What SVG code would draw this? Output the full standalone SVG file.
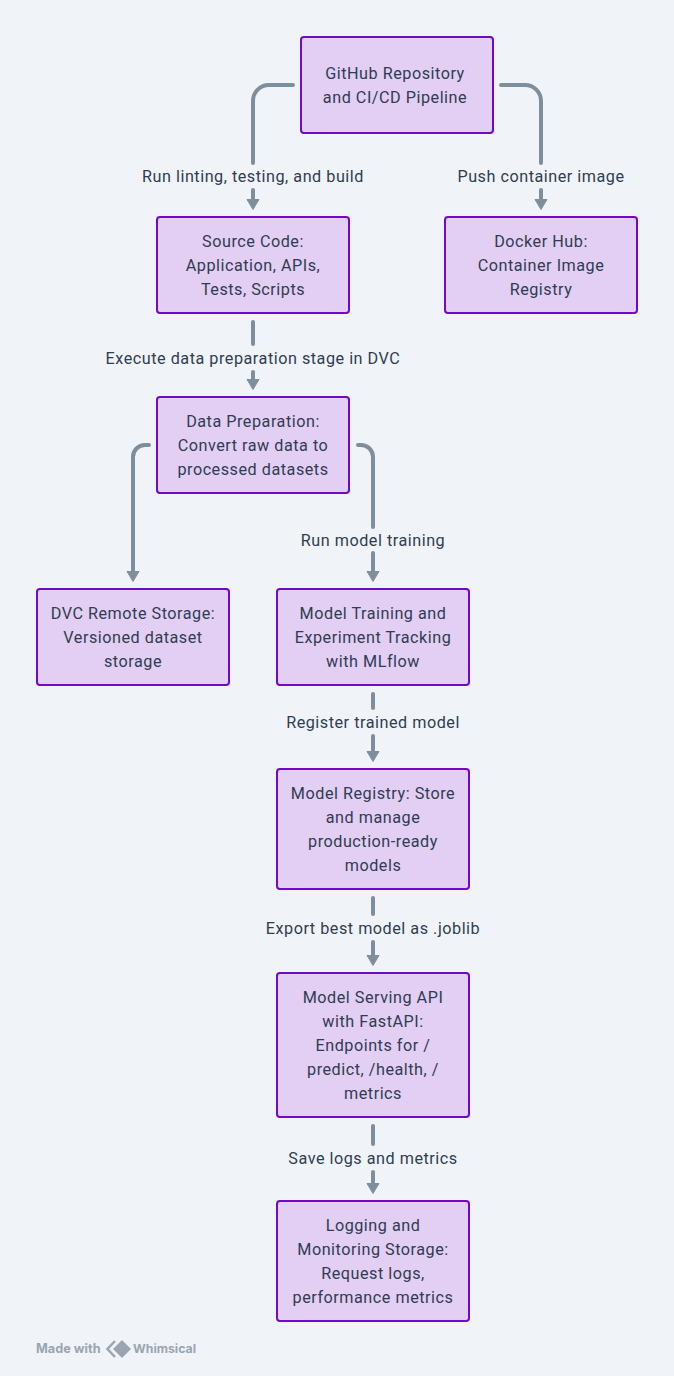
<svg xmlns="http://www.w3.org/2000/svg" width="674" height="1376" viewBox="0 0 674 1376">
<style>
.n{fill:#e3cef4;stroke:#7109c8;stroke-width:2}
.t{font-family:Roboto,"Noto Sans",sans-serif;font-size:16.2px;letter-spacing:.52px;fill:#2f3d52;text-anchor:middle}
.c{fill:none;stroke:#7f8e9d;stroke-width:4;stroke-linecap:round}
.f{font-family:Inter,sans-serif;font-size:12.7px;font-weight:700;fill:#9aa5b1}
</style>
<defs>
<marker id="a" markerUnits="userSpaceOnUse" markerWidth="16" markerHeight="14" refX="8" refY="3" orient="0" viewBox="0 0 16 14"><path d="M2 0.5H14L8 10.5Z" fill="#7f8e9d" stroke="#7f8e9d" stroke-width="1" stroke-linejoin="round"/></marker>
</defs>
<rect width="674" height="1376" fill="#f0f4f8"/>
<g id="connectors">
<path class="c" d="M293 85H269A16 16 0 0 0 253 101V163"/>
<path class="c" d="M253 190V202" marker-end="url(#a)"/>
<path class="c" d="M501 85H525A16 16 0 0 1 541 101V163"/>
<path class="c" d="M541 190V202" marker-end="url(#a)"/>
<path class="c" d="M253 322V344"/>
<path class="c" d="M253 372V382" marker-end="url(#a)"/>
<path class="c" d="M149 445H145A12 12 0 0 0 133 457V574" marker-end="url(#a)"/>
<path class="c" d="M358 445H361A12 12 0 0 1 373 457V527"/>
<path class="c" d="M373 553V574" marker-end="url(#a)"/>
<path class="c" d="M373 694V708"/>
<path class="c" d="M373 736V754" marker-end="url(#a)"/>
<path class="c" d="M373 898V914"/>
<path class="c" d="M373 942V958" marker-end="url(#a)"/>
<path class="c" d="M373 1126V1144"/>
<path class="c" d="M373 1172V1186" marker-end="url(#a)"/>
</g>
<g id="edge-labels" class="t">
<text x="253" y="181.500">Run linting, testing, and build</text>
<text x="541" y="181.500">Push container image</text>
<text x="253" y="363.500">Execute data preparation stage in DVC</text>
<text x="373" y="545.500">Run model training</text>
<text x="373" y="727.500">Register trained model</text>
<text x="373" y="933.500">Export best model as .joblib</text>
<text x="373" y="1163.500">Save logs and metrics</text>
</g>
<g id="github"><rect class="n" x="301" y="37" width="192" height="96" rx="3"/><text class="t" x="395" y="79">GitHub Repository</text><text class="t" x="395" y="103">and CI/CD Pipeline</text></g>
<g id="source"><rect class="n" x="157" y="217" width="192" height="96" rx="3"/><text class="t" x="253" y="247">Source Code:</text><text class="t" x="253" y="271">Application, APIs,</text><text class="t" x="253" y="295">Tests, Scripts</text></g>
<g id="docker"><rect class="n" x="445" y="217" width="192" height="96" rx="3"/><text class="t" x="541" y="247">Docker Hub:</text><text class="t" x="541" y="271">Container Image</text><text class="t" x="541" y="295">Registry</text></g>
<g id="prep"><rect class="n" x="157" y="397" width="192" height="96" rx="3"/><text class="t" x="253" y="427">Data Preparation:</text><text class="t" x="253" y="451">Convert raw data to</text><text class="t" x="253" y="475">processed datasets</text></g>
<g id="dvc"><rect class="n" x="37" y="589" width="192" height="96" rx="3"/><text class="t" x="133" y="619">DVC Remote Storage:</text><text class="t" x="133" y="643">Versioned dataset</text><text class="t" x="133" y="667">storage</text></g>
<g id="training"><rect class="n" x="277" y="589" width="192" height="96" rx="3"/><text class="t" x="373" y="619">Model Training and</text><text class="t" x="373" y="643">Experiment Tracking</text><text class="t" x="373" y="667">with MLflow</text></g>
<g id="registry"><rect class="n" x="277" y="769" width="192" height="120" rx="3"/><text class="t" x="373" y="799">Model Registry: Store</text><text class="t" x="373" y="823">and manage</text><text class="t" x="373" y="847">production-ready</text><text class="t" x="373" y="871">models</text></g>
<g id="serving"><rect class="n" x="277" y="973" width="192" height="144" rx="3"/><text class="t" x="373" y="1003">Model Serving API</text><text class="t" x="373" y="1027">with FastAPI:</text><text class="t" x="373" y="1051">Endpoints for /</text><text class="t" x="373" y="1075">predict, /health, /</text><text class="t" x="373" y="1099">metrics</text></g>
<g id="logging"><rect class="n" x="277" y="1201" width="192" height="120" rx="3"/><text class="t" x="373" y="1231">Logging and</text><text class="t" x="373" y="1255">Monitoring Storage:</text><text class="t" x="373" y="1279">Request logs,</text><text class="t" x="373" y="1303">performance metrics</text></g>
<g id="footer">
<text class="f" x="36" y="1353">Made with</text>
<path d="M115 1341L107.500 1349L115 1357" fill="none" stroke="#9aa5b1" stroke-width="2.500"/>
<path d="M122 1340L131 1349L122 1358L113 1349Z" fill="#9aa5b1"/>
<text class="f" x="133" y="1353" style="font-size:12.3px">Whimsical</text>
</g>
</svg>
